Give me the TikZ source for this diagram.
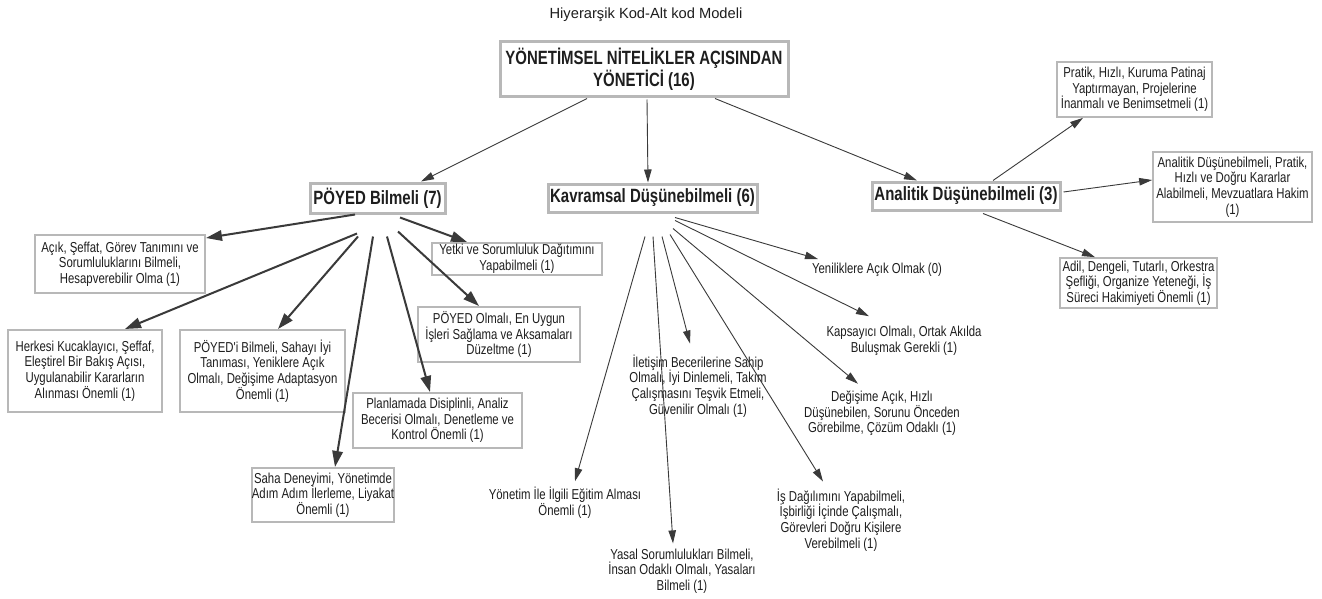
\documentclass[tikz,border=0pt]{standalone}
\usepackage{fontspec}
\setmainfont{Liberation Sans}
\newfontfamily\narrowsans[FakeStretch=0.79]{Liberation Sans}
\newfontfamily\narrowbold[FakeStretch=0.78]{Liberation Sans}
\usetikzlibrary{arrows.meta,calc}
\definecolor{boxgray}{HTML}{B8B8B8}
\definecolor{inkgray}{HTML}{3A3A3A}
\definecolor{txt}{HTML}{1E1E1E}
\tikzset{
  headbox/.style={draw=boxgray, line width=3pt, fill=white, inner sep=0pt, align=center, text=txt,
    font=\narrowbold\bfseries\fontsize{19.2}{22}\selectfont},
  leafbox/.style={draw=boxgray, line width=2pt, fill=white, inner sep=0pt, align=center, text=txt,
    font=\narrowsans\fontsize{14.4}{15.7}\selectfont},
  leaftext/.style={inner sep=1pt, align=center, text=txt,
    font=\narrowsans\fontsize{14.4}{15.7}\selectfont},
  boldlink/.style={draw=inkgray, line width=2pt, -{Triangle[length=16pt,width=10.5pt]}},
  thinlink/.style={draw=inkgray, line width=0.9pt, -{Triangle[length=13pt,width=7.5pt]}},
}
\begin{document}
\begin{tikzpicture}[x=1pt,y=-1pt]
\fill[white] (0,0) rectangle (1322,599);
\useasboundingbox (0,0) rectangle (1322,599);

% title
\node[text=txt, font=\fontsize{14.7}{17}\selectfont] (title) at (646,15) {Hiyerarşik Kod-Alt kod Modeli};

% root and main categories
\node[headbox, minimum width=288pt, minimum height=55pt] (root) at (644,69.5)
  {YÖNETİMSEL NİTELİKLER AÇISINDAN\\YÖNETİCİ (16)};
\node[headbox, minimum width=135pt, minimum height=30pt] (poyed) at (377.5,198) {PÖYED Bilmeli (7)};
\node[headbox, minimum width=209pt, minimum height=28pt] (kav) at (652.5,198) {Kavramsal Düşünebilmeli (6)};
\node[headbox, minimum width=188pt, minimum height=28pt] (anal) at (966,196) {Analitik Düşünebilmeli (3)};

% PÖYED sub-codes
\node[leafbox, minimum width=170pt, minimum height=58pt] (acik) at (120,264)
  {Açık, Şeffat, Görev Tanımını ve\\Sorumluluklarını Bilmeli,\\Hesapverebilir Olma (1)};
\node[leafbox, minimum width=170pt, minimum height=32pt] (yetki) at (517,259)
  {Yetki ve Sorumluluk Dağıtımını\\Yapabilmeli (1)};
\node[leafbox, minimum width=162pt, minimum height=55pt] (olmali) at (499,334.5)
  {PÖYED Olmalı, En Uygun\\İşleri Sağlama ve Aksamaları\\Düzeltme (1)};
\node[leafbox, minimum width=154pt, minimum height=82pt] (herkesi) at (85,371)
  {Herkesi Kucaklayıcı, Şeffaf,\\Eleştirel Bir Bakış Açısı,\\Uygulanabilir Kararların\\Alınması Önemli (1)};
\node[leafbox, minimum width=165pt, minimum height=82pt] (poyedi) at (262.5,371)
  {PÖYED'i Bilmeli, Sahayı İyi\\Tanıması, Yeniklere Açık\\Olmalı, Değişime Adaptasyon\\Önemli (1)};
\node[leafbox, minimum width=169pt, minimum height=55pt] (plan) at (437.5,420.5)
  {Planlamada Disiplinli, Analiz\\Becerisi Olmalı, Denetleme ve\\Kontrol Önemli (1)};
\node[leafbox, minimum width=140pt, minimum height=54pt] (saha) at (323,495)
  {Saha Deneyimi, Yönetimde\\Adım Adım İlerleme, Liyakat\\Önemli (1)};

% Kavramsal sub-codes
\node[leaftext] (yeni) at (877,270) {Yeniliklere Açık Olmak (0)};
\node[leaftext] (kaps) at (904,341) {Kapsayıcı Olmalı, Ortak Akılda\\Buluşmak Gerekli (1)};
\node[leaftext] (degis) at (882,413.5) {Değişime Açık, Hızlı\\Düşünebilen, Sorunu Önceden\\Görebilme, Çözüm Odaklı (1)};
\node[leaftext] (ilet) at (698,386) {İletişim Becerilerine Sahip\\Olmalı, İyi Dinlemeli, Takım\\Çalışmasını Teşvik Etmeli,\\Güvenilir Olmalı (1)};
\node[leaftext] (yonet) at (565,503) {Yönetim İle İlgili Eğitim Alması\\Önemli (1)};
\node[leaftext] (yasal) at (682,571) {Yasal Sorumlulukları Bilmeli,\\İnsan Odaklı Olmalı, Yasaları\\Bilmeli (1)};
\node[leaftext] (isdag) at (841,520) {İş Dağılımını Yapabilmeli,\\İşbirliği İçinde Çalışmalı,\\Görevleri Doğru Kişilere\\Verebilmeli (1)};

% Analitik sub-codes
\node[leafbox, line width=1.7pt, minimum width=155pt, minimum height=55pt] (pratik) at (1134.5,89.5)
  {Pratik, Hızlı, Kuruma Patinaj\\Yaptırmayan, Projelerine\\İnanmalı ve Benimsetmeli (1)};
\node[leafbox, line width=1.7pt, minimum width=159pt, minimum height=70pt] (analeaf) at (1232.5,187)
  {Analitik Düşünebilmeli, Pratik,\\Hızlı ve Doğru Kararlar\\Alabilmeli, Mevzuatlara Hakim\\(1)};
\node[leafbox, line width=1.7pt, minimum width=157pt, minimum height=50pt] (adil) at (1138.5,283)
  {Adil, Dengeli, Tutarlı, Orkestra\\Şefliği, Organize Yeteneği, İş\\Süreci Hakimiyeti Önemli (1)};

% root links
\draw[thinlink] ($(root.south)+(-57,0)$) -- ($(poyed.north)+(43.5,0)$);
\draw[thinlink] ($(root.south)+(3,1)$) -- ($(kav.north)+(-4.5,0)$);
\draw[thinlink] ($(root.south)+(71,0)$) -- ($(anal.north)+(-49,0)$);

% PÖYED links
\draw[boldlink] ($(poyed.south)+(-22.5,0)$) -- ($(acik.east)+(0,-26)$);
\draw[boldlink] ($(poyed.south)+(22.5,3)$) -- ($(yetki.north)+(-50,0)$);
\draw[boldlink] ($(poyed.south)+(20.5,17)$) -- ($(olmali.north)+(-20,0)$);
\draw[boldlink] ($(poyed.south)+(-20.5,19)$) -- ($(herkesi.north)+(40,0)$);
\draw[boldlink] ($(poyed.south)+(-19.5,22)$) -- ($(poyedi.north)+(15.5,0)$);
\draw[boldlink] ($(poyed.south)+(-4.5,22)$) -- ($(saha.north)+(12,0)$);
\draw[boldlink] ($(poyed.south)+(9.5,22)$) -- ($(plan.north)+(-7.5,0)$);

% Kavramsal links
\draw[thinlink] ($(kav.south)+(22.5,4)$) -- ($(yeni.north)+(-59,-3)$);
\draw[thinlink] ($(kav.south)+(22.5,7)$) -- ($(kaps.north)+(-35,-9)$);
\draw[thinlink] ($(kav.south)+(20.5,15)$) -- ($(degis.north)+(-24,-6)$);
\draw[thinlink] ($(kav.south)+(17.5,21)$) -- ($(isdag.north)+(-18,-6)$);
\draw[thinlink] ($(kav.south)+(9.5,23)$) -- ($(ilet.north)+(-8,-10)$);
\draw[thinlink] ($(kav.south)+(0.5,23)$) -- ($(yasal.north)+(-9,-4)$);
\draw[thinlink] ($(kav.south)+(-7.5,23)$) -- ($(yonet.north)+(10,-5)$);

% Analitik links
\draw[thinlink] ($(anal.north)+(27,0)$) -- ($(pratik.south)+(-51.5,0)$);
\draw[thinlink] ($(anal.east)+(2,-4)$) -- ($(analeaf.west)+(0,-7)$);
\draw[thinlink] ($(anal.south)+(17,2)$) -- ($(adil.north)+(-43.5,0)$);
\end{tikzpicture}
\end{document}
